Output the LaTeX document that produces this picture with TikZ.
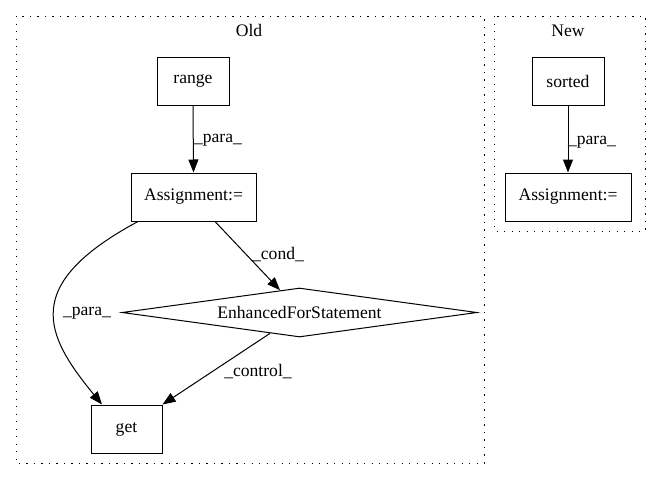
\documentclass[tikz,border=0pt]{standalone}
\usepackage{fontspec}
\setmainfont{Liberation Serif}
\usetikzlibrary{shapes.geometric,arrows.meta,calc}
\begin{document}
\begin{tikzpicture}[x=1pt,y=-1pt,
  every node/.style={font=\fontsize{17.6}{21}\selectfont},
  box/.style={draw,line width=1pt,rectangle,minimum height=48pt,inner sep=0pt},
  cond/.style={draw,line width=1pt,diamond,shape aspect=7.2,minimum width=355pt,minimum height=49pt,inner sep=0pt},
  cluster/.style={draw,line width=1pt,dash pattern=on 1.3pt off 6.2pt},
  edge/.style={draw,line width=1pt,-{Triangle[length=13pt,width=10pt]}},
  lab/.style={inner sep=0pt}
]
\useasboundingbox (0,0) rectangle (657,480);
% clusters
\draw[cluster] (16,16) rectangle (484,463);
\draw[cluster] (494,16) rectangle (645,231);
\node[lab] (oldt) at (249,30) {Old};
\node[lab] (newt) at (568,31) {New};
% nodes
\node[box,minimum width=72pt] (range) at (193,81) {range};
\node[box,minimum width=125pt] (assign) at (193.5,197) {Assignment:=};
\node[cond] (efs) at (299.5,312.5) {EnhancedForStatement};
\node[box,minimum width=71pt] (get) at (126.5,429) {get};
\node[box,minimum width=72pt] (sorted) at (568,81) {sorted};
\node[box,minimum width=126pt] (assignn) at (568,197) {Assignment:=};
% edges
\draw[edge] (range.south) -- (assign.north);
\node[lab] (l1) at (218,140) {\_para\_};
\draw[edge] ($(assign.south)+(-55.5,0)$) .. controls (20,285) and (45,335) .. ($(get.north)+(-24.5,0)$);
\node[lab] (l2) at (87,313) {\_para\_};
\draw[edge] ($(assign.south)+(21.5,0)$) -- ($(efs.north)+(-19.5,2.7)$);
\node[lab] (l3) at (278,255) {\_cond\_};
\draw[edge] ($(efs.south)+(-29.5,-4.1)$) -- (get.north east);
\node[lab] (l4) at (258,372) {\_control\_};
\draw[edge] (sorted.south) -- (assignn.north);
\node[lab] (l5) at (592,142) {\_para\_};
\end{tikzpicture}
\end{document}
